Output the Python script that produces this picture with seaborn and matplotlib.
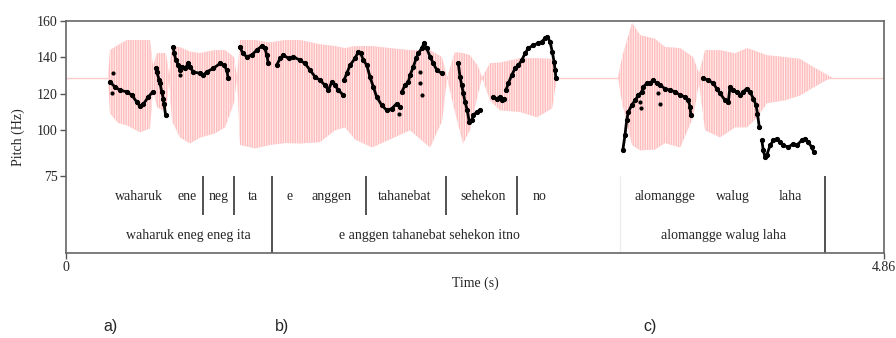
import numpy as np
import pandas as pd
import matplotlib
matplotlib.use("Agg")
import matplotlib.pyplot as plt
import seaborn as sns

# --- data (time in s, pitch in Hz) ---
t_max = 4.86
baseline = 128.8

# waveform envelope (top / bottom), drawn in the pitch coordinates
env_t = [0.000, 0.250, 0.261, 0.309, 0.362, 0.440, 0.499, 0.517, 0.541, 0.594,
         0.612, 0.630, 0.677, 0.737, 0.796, 0.885, 0.945, 0.998, 1.016, 1.034,
         1.123, 1.212, 1.301, 1.390, 1.509, 1.598, 1.658, 1.717, 1.818, 1.925,
         2.044, 2.163, 2.234, 2.264, 2.311, 2.359, 2.400, 2.448, 2.472, 2.519,
         2.579, 2.698, 2.799, 2.888, 2.917, 3.280, 3.304, 3.363, 3.411, 3.500,
         3.559, 3.649, 3.726, 3.761, 3.797, 3.886, 3.975, 4.046, 4.106, 4.165,
         4.272, 4.361, 4.433, 4.510, 4.551, 4.860]
env_top = [128.8, 128.8, 143.8, 146.6, 149.3, 149.3, 149.3, 135.0, 142.2, 142.2,
           130.0, 145.5, 145.5, 143.0, 142.2, 143.8, 143.8, 140.0, 128.8, 149.3,
           149.3, 148.0, 149.3, 149.3, 147.0, 146.0, 144.9, 146.0, 146.0, 144.9,
           143.8, 143.8, 140.0, 128.8, 142.7, 142.2, 141.0, 135.0, 128.8, 136.7,
           137.0, 139.4, 139.4, 139.0, 128.8, 128.8, 140.0, 158.6, 152.0, 150.0,
           145.5, 144.9, 140.0, 131.0, 143.8, 143.8, 142.0, 144.9, 143.0, 141.0,
           140.0, 139.0, 135.0, 131.0, 128.8, 128.8]
env_bot = [128.8, 128.8, 109.3, 104.0, 102.7, 98.9, 101.0, 122.0, 112.6, 110.0,
           127.5, 105.0, 96.1, 92.8, 96.0, 98.3, 101.6, 115.0, 128.8, 92.0,
           90.1, 92.0, 93.0, 92.8, 93.5, 100.0, 101.6, 95.0, 90.6, 95.0,
           100.0, 90.6, 105.0, 128.8, 110.0, 92.8, 100.0, 120.0, 128.8, 116.4,
           110.9, 110.0, 107.1, 112.0, 128.8, 128.8, 115.0, 92.0, 89.0, 89.5,
           93.0, 90.6, 107.1, 126.0, 100.0, 96.1, 101.6, 101.6, 107.1, 114.8,
           116.4, 119.0, 123.0, 127.0, 128.8, 128.8]

# pitch contours, one list per voiced stretch
waharuk_t = [0.261, 0.291, 0.321, 0.361, 0.391, 0.420, 0.440, 0.459, 0.489, 0.515]
waharuk_hz = [126.4, 123.7, 121.9, 121.0, 119.2, 115.5, 113.1, 114.2, 118.2, 121.0]
uk_t = [0.535, 0.539, 0.554, 0.559, 0.569, 0.578, 0.582, 0.592]
uk_hz = [133.8, 131.9, 127.4, 125.6, 121.0, 117.3, 114.6, 108.2]
eneneg_t = [0.638, 0.642, 0.654, 0.667, 0.677, 0.687, 0.707, 0.727, 0.737, 0.756,
            0.796, 0.816, 0.836, 0.875, 0.915, 0.939, 0.955, 0.964]
eneneg_hz = [145.6, 142.0, 138.3, 135.6, 132.9, 134.7, 133.8, 136.5, 134.7, 131.9,
             131.1, 130.1, 131.9, 133.8, 136.5, 135.6, 132.9, 128.3]
ta_t = [1.034, 1.050, 1.074, 1.103, 1.133, 1.163, 1.182, 1.193, 1.202]
ta_hz = [145.6, 142.0, 140.2, 141.1, 143.8, 146.0, 144.8, 141.1, 136.5]
anggen_t = [1.252, 1.272, 1.292, 1.322, 1.351, 1.390, 1.420, 1.450, 1.480, 1.509,
            1.539, 1.559, 1.579, 1.598, 1.618, 1.648]
anggen_hz = [135.6, 139.3, 141.1, 139.3, 140.2, 138.3, 136.5, 132.9, 129.2, 127.4,
             124.6, 121.9, 126.4, 124.6, 121.9, 119.2]
taha_t = [1.652, 1.668, 1.688, 1.717, 1.737, 1.751, 1.767, 1.787, 1.806, 1.826,
          1.846, 1.876, 1.906, 1.935, 1.965, 1.985]
taha_hz = [127.4, 131.1, 135.6, 139.3, 142.9, 142.0, 138.3, 135.6, 129.2, 123.7,
           118.2, 113.7, 110.9, 111.8, 114.6, 112.7]
nebat_t = [1.995, 2.014, 2.034, 2.044, 2.064, 2.080, 2.093, 2.113, 2.127, 2.143,
           2.163, 2.183, 2.203, 2.232]
nebat_hz = [121.0, 124.6, 126.4, 130.1, 134.7, 139.3, 142.0, 144.8, 147.5, 144.8,
            140.2, 136.5, 132.9, 131.1]
sehekon_t = [2.331, 2.341, 2.351, 2.361, 2.371, 2.384, 2.396, 2.411, 2.420, 2.440, 2.460]
sehekon_hz = [136.5, 129.2, 124.6, 120.1, 115.5, 110.9, 104.5, 105.4, 108.2, 110.0, 110.9]
it_t = [2.539, 2.559, 2.579, 2.589, 2.602]
it_hz = [118.2, 117.3, 118.2, 116.4, 117.3]
no_t = [2.614, 2.628, 2.648, 2.668, 2.688, 2.708, 2.727, 2.747, 2.777, 2.806,
        2.826, 2.846, 2.860, 2.876, 2.889, 2.900, 2.906, 2.911]
no_hz = [121.9, 125.6, 130.1, 133.8, 135.6, 138.3, 142.0, 144.8, 146.6, 147.5,
         148.4, 150.2, 151.1, 148.4, 142.9, 137.4, 132.9, 128.3]
alomangge_t = [3.308, 3.321, 3.331, 3.341, 3.361, 3.381, 3.401, 3.421, 3.430, 3.450,
               3.470, 3.490, 3.510, 3.530, 3.559, 3.589, 3.619, 3.649, 3.678, 3.698,
               3.708, 3.712]
alomangge_hz = [89.0, 97.2, 105.4, 110.0, 113.7, 116.4, 119.2, 121.0, 123.7, 125.6,
                125.9, 127.4, 125.6, 124.6, 122.8, 121.9, 121.0, 119.2, 118.2, 116.4,
                112.7, 108.2]
walug_t = [3.787, 3.816, 3.846, 3.866, 3.886, 3.916, 3.935, 3.945, 3.965, 3.985,
           4.005, 4.024, 4.044, 4.064, 4.084, 4.100, 4.108, 4.119]
walug_hz = [128.3, 127.4, 125.6, 122.8, 120.1, 116.4, 115.5, 123.7, 121.9, 121.0,
            119.2, 121.0, 122.8, 121.0, 117.3, 113.7, 109.1, 101.8]
laha_t = [4.134, 4.143, 4.153, 4.163, 4.183, 4.203, 4.223, 4.242, 4.262, 4.292,
          4.322, 4.341, 4.371, 4.391, 4.410, 4.430, 4.444]
laha_hz = [94.5, 89.0, 85.3, 86.3, 91.7, 94.5, 95.4, 93.6, 91.7, 90.8,
           92.7, 91.7, 94.5, 95.4, 93.6, 90.8, 87.9]

# isolated pitch points
stray_t = [0.281, 0.272, 0.677, 1.981, 2.103, 2.103, 2.113, 3.411, 3.415, 3.520, 3.530]
stray_hz = [131.1, 120.1, 130.0, 109.1, 131.9, 125.6, 119.2, 115.5, 111.9, 120.1, 114.6]

# text grid
tier1_words = ["waharuk", "ene", "neg", "ta", "e", "anggen", "tahanebat",
               "sehekon", "no", "alomangge", "walug", "laha"]
tier1_pos = [0.434, 0.719, 0.909, 1.111, 1.331, 1.575, 2.014, 2.478, 2.816,
             3.559, 3.963, 4.302]
tier1_bounds = [0.814, 0.998, 1.783, 2.258, 2.680]
tier2_words = ["waharuk eneg eneg ita", "e anggen tahanebat sehekon itno",
               "alomangge walug laha"]
tier2_pos = [0.725, 2.157, 3.904]
tier2_bounds = [1.224, 4.510]
faint_bounds = [3.29]

yticks = [75, 100, 120, 140, 160]
panel_labels = ["a)", "b)", "c)"]
panel_x = [110, 282, 650]

segments = [(waharuk_t, waharuk_hz), (uk_t, uk_hz), (eneneg_t, eneneg_hz),
            (ta_t, ta_hz), (anggen_t, anggen_hz), (taha_t, taha_hz),
            (nebat_t, nebat_hz), (sehekon_t, sehekon_hz), (it_t, it_hz),
            (no_t, no_hz), (alomangge_t, alomangge_hz), (walug_t, walug_hz),
            (laha_t, laha_hz)]
rows = []
for k, (ts, hs) in enumerate(segments):
    for t, h in zip(ts, hs):
        rows.append((k, t, h))
pitch = pd.DataFrame(rows, columns=["seg", "t", "hz"])
strays = pd.DataFrame({"t": stray_t, "hz": stray_hz})

sns.set_style("ticks")
plt.rcParams["font.family"] = ["Liberation Serif", "DejaVu Serif"]
plt.rcParams["hatch.linewidth"] = 0.7

W, H = 896, 338
fig = plt.figure(figsize=(W / 100, H / 100), dpi=100)
left, right, top, bottom = 66, 884, 20.5, 253
ax = fig.add_axes([left / W, 1 - bottom / H, (right - left) / W, (bottom - top) / H])

hz_per_px = 85 / (176 - 20.5)
ax.set_xlim(0, t_max)
ax.set_ylim(160 - (bottom - top) * hz_per_px, 160)
tier_split = 160 - (214.5 - top) * hz_per_px
y_t1 = 160 - (196 - top) * hz_per_px
y_t2 = 160 - (235 - top) * hz_per_px
y_lo = ax.get_ylim()[0]

# waveform
wave = "#ffbcbc"
ax.axhline(baseline, color="#ffcaca", lw=1, zorder=1)
ax.fill_between(env_t, env_bot, env_top, facecolor=wave, edgecolor="#fff0f0",
                hatch="|||||||", linewidth=0, zorder=1)

# pitch
sns.lineplot(data=pitch, x="t", y="hz", units="seg", estimator=None, sort=False,
             color="black", lw=2.0, marker="o", markersize=3.0, mec="black",
             ax=ax, zorder=3)
sns.scatterplot(data=strays, x="t", y="hz", color="black", s=9, linewidth=0,
                ax=ax, zorder=3)

# text grid
ax.vlines(tier1_bounds, tier_split, 75, color="#333333", lw=1.2)
ax.vlines(tier2_bounds, y_lo, 75, color="#333333", lw=1.2)
ax.vlines(faint_bounds, y_lo, 75, color="#eeeeee", lw=1)
for w, p in zip(tier1_words, tier1_pos):
    ax.text(p, y_t1, w, ha="center", va="center", fontsize=10)
for w, p in zip(tier2_words, tier2_pos):
    ax.text(p, y_t2, w, ha="center", va="center", fontsize=10)

ax.set_yticks(yticks)
ax.set_yticklabels([str(v) for v in yticks], fontsize=10)
ax.set_xticks([0, t_max])
ax.set_xticklabels(["0", "4.86"], fontsize=10)
ax.tick_params(length=4, width=1, color="#555555", pad=2)
for s in ax.spines.values():
    s.set_color("#666666")
    s.set_linewidth(1.2)
ax.set_xlabel("")
ax.set_ylabel("")

fig.text(18 / W, 1 - 137 / H, "Pitch (Hz)", rotation=90, ha="center", va="center",
         fontsize=10)
fig.text(475 / W, 1 - 283 / H, "Time (s)", ha="center", va="center", fontsize=10)
for lab, px in zip(panel_labels, panel_x):
    fig.text(px / W, 1 - 326 / H, lab, ha="center", va="center", fontsize=11.5,
             family=["Liberation Sans", "DejaVu Sans"])

fig.savefig("out.png", dpi=100)
